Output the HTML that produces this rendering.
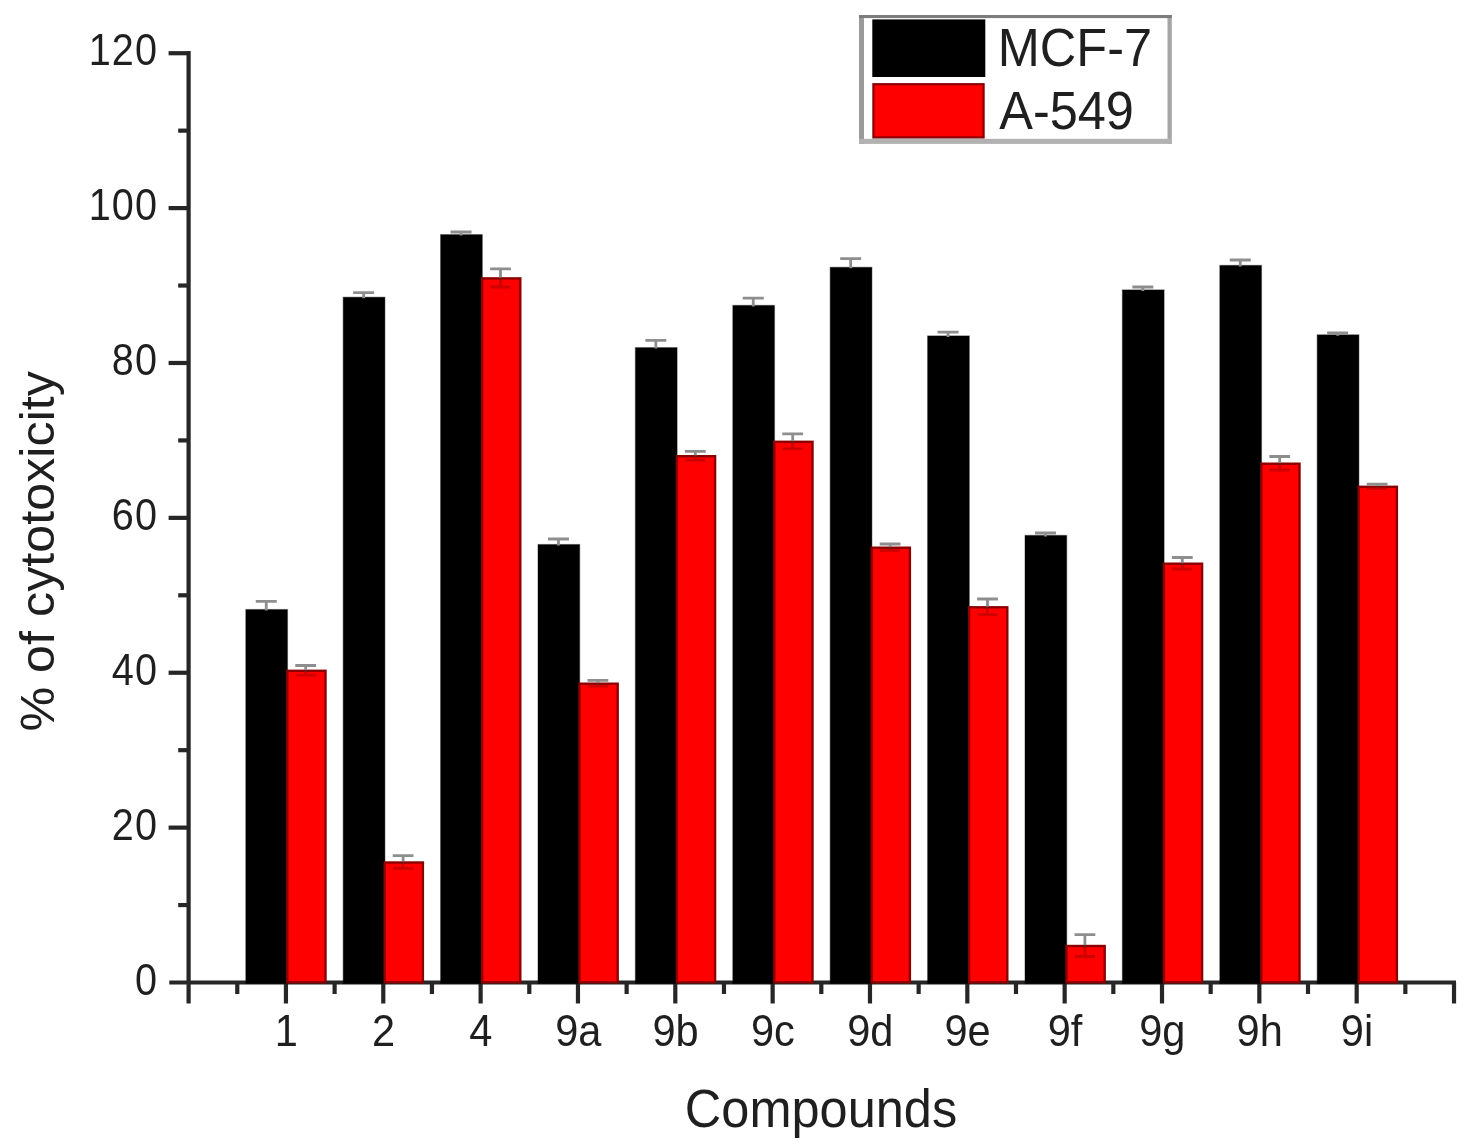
<!DOCTYPE html>
<html lang="en"><head><meta charset="utf-8"><title>% of cytotoxicity vs Compounds</title>
<style>html,body{margin:0;padding:0;background:#fff;}body{width:1468px;height:1144px;overflow:hidden;}svg{display:block;}text{font-family:"Liberation Sans",Arial,Helvetica,sans-serif;fill:#1f1f1f;}</style>
</head><body>
<svg width="1468" height="1144" viewBox="0 0 1468 1144">
<rect x="0" y="0" width="1468" height="1144" fill="#ffffff"/>
<g id="axes" stroke="#262626" stroke-width="4.2" fill="none">
<path d="M188.60 51.00V1003.50"/>
<path d="M169.30 982.50H1456.00"/>
<path d="M178.20 905.06H188.60"/>
<path d="M168.60 827.62H188.60"/>
<path d="M178.20 750.18H188.60"/>
<path d="M168.60 672.74H188.60"/>
<path d="M178.20 595.30H188.60"/>
<path d="M168.60 517.86H188.60"/>
<path d="M178.20 440.42H188.60"/>
<path d="M168.60 362.98H188.60"/>
<path d="M178.20 285.54H188.60"/>
<path d="M168.60 208.10H188.60"/>
<path d="M178.20 130.66H188.60"/>
<path d="M168.60 53.22H188.60"/>
<path d="M237.27 982.50V994.00"/>
<path d="M285.94 982.50V1003.50"/>
<path d="M334.61 982.50V994.00"/>
<path d="M383.28 982.50V1003.50"/>
<path d="M431.95 982.50V994.00"/>
<path d="M480.62 982.50V1003.50"/>
<path d="M529.29 982.50V994.00"/>
<path d="M577.96 982.50V1003.50"/>
<path d="M626.63 982.50V994.00"/>
<path d="M675.30 982.50V1003.50"/>
<path d="M723.97 982.50V994.00"/>
<path d="M772.64 982.50V1003.50"/>
<path d="M821.31 982.50V994.00"/>
<path d="M869.98 982.50V1003.50"/>
<path d="M918.65 982.50V994.00"/>
<path d="M967.32 982.50V1003.50"/>
<path d="M1015.99 982.50V994.00"/>
<path d="M1064.66 982.50V1003.50"/>
<path d="M1113.33 982.50V994.00"/>
<path d="M1162.00 982.50V1003.50"/>
<path d="M1210.67 982.50V994.00"/>
<path d="M1259.34 982.50V1003.50"/>
<path d="M1308.01 982.50V994.00"/>
<path d="M1356.68 982.50V1003.50"/>
<path d="M1405.35 982.50V994.00"/>
<path d="M1454.02 982.50V1003.50"/>
</g>
<g id="bars">
<rect x="245.80" y="609.50" width="41.70" height="374.00" fill="#000" stroke="#000" stroke-opacity="0.35" stroke-width="1.2"/>
<rect x="287.30" y="670.80" width="38.20" height="311.50" fill="#ff0000" stroke="#8c0000" stroke-width="2.4"/>
<rect x="343.20" y="297.20" width="41.70" height="686.30" fill="#000" stroke="#000" stroke-opacity="0.35" stroke-width="1.2"/>
<rect x="384.70" y="862.50" width="38.20" height="119.80" fill="#ff0000" stroke="#8c0000" stroke-width="2.4"/>
<rect x="440.60" y="234.60" width="41.70" height="748.90" fill="#000" stroke="#000" stroke-opacity="0.35" stroke-width="1.2"/>
<rect x="482.10" y="278.40" width="38.20" height="703.90" fill="#ff0000" stroke="#8c0000" stroke-width="2.4"/>
<rect x="538.00" y="544.50" width="41.70" height="439.00" fill="#000" stroke="#000" stroke-opacity="0.35" stroke-width="1.2"/>
<rect x="579.50" y="683.70" width="38.20" height="298.60" fill="#ff0000" stroke="#8c0000" stroke-width="2.4"/>
<rect x="635.40" y="347.60" width="41.70" height="635.90" fill="#000" stroke="#000" stroke-opacity="0.35" stroke-width="1.2"/>
<rect x="676.90" y="456.20" width="38.20" height="526.10" fill="#ff0000" stroke="#8c0000" stroke-width="2.4"/>
<rect x="732.80" y="305.40" width="41.70" height="678.10" fill="#000" stroke="#000" stroke-opacity="0.35" stroke-width="1.2"/>
<rect x="774.30" y="441.80" width="38.20" height="540.50" fill="#ff0000" stroke="#8c0000" stroke-width="2.4"/>
<rect x="830.20" y="267.30" width="41.70" height="716.20" fill="#000" stroke="#000" stroke-opacity="0.35" stroke-width="1.2"/>
<rect x="871.70" y="547.70" width="38.20" height="434.60" fill="#ff0000" stroke="#8c0000" stroke-width="2.4"/>
<rect x="927.60" y="335.90" width="41.70" height="647.60" fill="#000" stroke="#000" stroke-opacity="0.35" stroke-width="1.2"/>
<rect x="969.10" y="607.30" width="38.20" height="375.00" fill="#ff0000" stroke="#8c0000" stroke-width="2.4"/>
<rect x="1025.00" y="535.40" width="41.70" height="448.10" fill="#000" stroke="#000" stroke-opacity="0.35" stroke-width="1.2"/>
<rect x="1066.50" y="946.00" width="38.20" height="36.30" fill="#ff0000" stroke="#8c0000" stroke-width="2.4"/>
<rect x="1122.40" y="289.90" width="41.70" height="693.60" fill="#000" stroke="#000" stroke-opacity="0.35" stroke-width="1.2"/>
<rect x="1163.90" y="563.70" width="38.20" height="418.60" fill="#ff0000" stroke="#8c0000" stroke-width="2.4"/>
<rect x="1219.80" y="265.40" width="41.70" height="718.10" fill="#000" stroke="#000" stroke-opacity="0.35" stroke-width="1.2"/>
<rect x="1261.30" y="463.70" width="38.20" height="518.60" fill="#ff0000" stroke="#8c0000" stroke-width="2.4"/>
<rect x="1317.20" y="334.80" width="41.70" height="648.70" fill="#000" stroke="#000" stroke-opacity="0.35" stroke-width="1.2"/>
<rect x="1358.70" y="486.80" width="38.20" height="495.50" fill="#ff0000" stroke="#8c0000" stroke-width="2.4"/>
</g>
<g id="err" stroke="#8e8e8e" stroke-width="2.8" fill="none">
<path d="M255.75 601.40H276.75M266.25 601.40V610.50"/>
<path d="M305.70 669.60V672.20" stroke="#6e1a1a"/>
<path d="M295.70 675.20H315.70M305.70 672.00V675.20" stroke="#c00000" stroke-opacity="0.75"/>
<path d="M295.30 665.50H316.10M305.70 665.50V669.90"/>
<path d="M353.15 292.60H374.15M363.65 292.60V298.20"/>
<path d="M403.10 861.30V863.90" stroke="#6e1a1a"/>
<path d="M393.10 868.40H413.10M403.10 863.70V868.40" stroke="#c00000" stroke-opacity="0.75"/>
<path d="M392.70 855.70H413.50M403.10 855.70V861.60"/>
<path d="M450.55 232.00H471.55M461.05 232.00V235.60"/>
<path d="M500.50 277.20V279.80" stroke="#6e1a1a"/>
<path d="M490.50 287.00H510.50M500.50 279.60V287.00" stroke="#c00000" stroke-opacity="0.75"/>
<path d="M490.10 268.90H510.90M500.50 268.90V277.50"/>
<path d="M547.95 539.00H568.95M558.45 539.00V545.50"/>
<path d="M597.90 682.50V685.10" stroke="#6e1a1a"/>
<path d="M587.90 686.20H607.90M597.90 684.90V686.20" stroke="#c00000" stroke-opacity="0.75"/>
<path d="M587.50 680.30H608.30M597.90 680.30V682.80"/>
<path d="M645.35 340.30H666.35M655.85 340.30V348.60"/>
<path d="M695.30 455.00V457.60" stroke="#6e1a1a"/>
<path d="M685.30 460.20H705.30M695.30 457.40V460.20" stroke="#c00000" stroke-opacity="0.75"/>
<path d="M684.90 451.30H705.70M695.30 451.30V455.30"/>
<path d="M742.75 298.10H763.75M753.25 298.10V306.40"/>
<path d="M792.70 440.60V443.20" stroke="#6e1a1a"/>
<path d="M782.70 448.90H802.70M792.70 443.00V448.90" stroke="#c00000" stroke-opacity="0.75"/>
<path d="M782.30 433.80H803.10M792.70 433.80V440.90"/>
<path d="M840.15 258.60H861.15M850.65 258.60V268.30"/>
<path d="M890.10 546.50V549.10" stroke="#6e1a1a"/>
<path d="M880.10 550.50H900.10M890.10 548.90V550.50" stroke="#c00000" stroke-opacity="0.75"/>
<path d="M879.70 544.00H900.50M890.10 544.00V546.80"/>
<path d="M937.55 332.20H958.55M948.05 332.20V336.90"/>
<path d="M987.50 606.10V608.70" stroke="#6e1a1a"/>
<path d="M977.50 614.70H997.50M987.50 608.50V614.70" stroke="#c00000" stroke-opacity="0.75"/>
<path d="M977.10 599.00H997.90M987.50 599.00V606.40"/>
<path d="M1034.95 533.00H1055.95M1045.45 533.00V536.40"/>
<path d="M1084.90 944.80V947.40" stroke="#6e1a1a"/>
<path d="M1074.90 956.50H1094.90M1084.90 947.20V956.50" stroke="#c00000" stroke-opacity="0.75"/>
<path d="M1074.50 934.60H1095.30M1084.90 934.60V945.10"/>
<path d="M1132.35 287.00H1153.35M1142.85 287.00V290.90"/>
<path d="M1182.30 562.50V565.10" stroke="#6e1a1a"/>
<path d="M1172.30 569.00H1192.30M1182.30 564.90V569.00" stroke="#c00000" stroke-opacity="0.75"/>
<path d="M1171.90 557.50H1192.70M1182.30 557.50V562.80"/>
<path d="M1229.75 260.00H1250.75M1240.25 260.00V266.40"/>
<path d="M1279.70 462.50V465.10" stroke="#6e1a1a"/>
<path d="M1269.70 470.00H1289.70M1279.70 464.90V470.00" stroke="#c00000" stroke-opacity="0.75"/>
<path d="M1269.30 456.50H1290.10M1279.70 456.50V462.80"/>
<path d="M1327.15 333.00H1348.15M1337.65 333.00V335.80"/>
<path d="M1377.10 485.60V488.20" stroke="#6e1a1a"/>
<path d="M1367.10 488.60H1387.10M1377.10 488.00V488.60" stroke="#c00000" stroke-opacity="0.75"/>
<path d="M1366.70 484.10H1387.50M1377.10 484.10V485.90"/>
</g>
<g id="ylabels" font-size="44" text-anchor="end" letter-spacing="1.2">
<text transform="translate(158 994.60) scale(0.9 1)">0</text>
<text transform="translate(158 839.72) scale(0.9 1)">20</text>
<text transform="translate(158 684.84) scale(0.9 1)">40</text>
<text transform="translate(158 529.96) scale(0.9 1)">60</text>
<text transform="translate(158 375.08) scale(0.9 1)">80</text>
<text transform="translate(158 220.20) scale(0.9 1)">100</text>
<text transform="translate(158 65.32) scale(0.9 1)">120</text>
</g>
<g id="xlabels" font-size="43.5" text-anchor="middle">
<text transform="translate(286.24 1046.2) scale(0.955 1)">1</text>
<text transform="translate(383.58 1046.2) scale(0.955 1)">2</text>
<text transform="translate(480.92 1046.2) scale(0.955 1)">4</text>
<text transform="translate(578.26 1046.2) scale(0.955 1)">9a</text>
<text transform="translate(675.60 1046.2) scale(0.955 1)">9b</text>
<text transform="translate(772.94 1046.2) scale(0.955 1)">9c</text>
<text transform="translate(870.28 1046.2) scale(0.955 1)">9d</text>
<text transform="translate(967.62 1046.2) scale(0.955 1)">9e</text>
<text transform="translate(1064.96 1046.2) scale(0.955 1)">9f</text>
<text transform="translate(1162.30 1046.2) scale(0.955 1)">9g</text>
<text transform="translate(1259.64 1046.2) scale(0.955 1)">9h</text>
<text transform="translate(1356.98 1046.2) scale(0.955 1)">9i</text>
</g>
<text transform="translate(821 1127) scale(0.944 1)" font-size="53.5" text-anchor="middle">Compounds</text>
<text transform="translate(54 551.3) rotate(-90) scale(1.048 1)" font-size="48" text-anchor="middle">% of cytotoxicity</text>
<g id="legend">
<rect x="859" y="15" width="313" height="129" fill="#ffffff"/>
<rect x="859" y="15" width="5" height="129" fill="#9a9a9a"/>
<rect x="1167.5" y="15" width="4.3" height="129" fill="#a6a6a6"/>
<rect x="859" y="138.8" width="312.8" height="5.1" fill="#b2b2b2"/>
<rect x="859" y="15" width="312.8" height="3.1" fill="#7c7c7c"/>
<rect x="872.3" y="19.4" width="113" height="57.6" fill="#000"/>
<rect x="873.4" y="84.2" width="110.2" height="53.2" fill="#ff0000" stroke="#8c0000" stroke-width="2.2"/>
<text transform="translate(997.8 66.1) scale(0.953 1)" font-size="53">MCF-7</text>
<text transform="translate(999.2 128.6) scale(0.953 1)" font-size="53">A-549</text>
</g>
</svg>
</body></html>
